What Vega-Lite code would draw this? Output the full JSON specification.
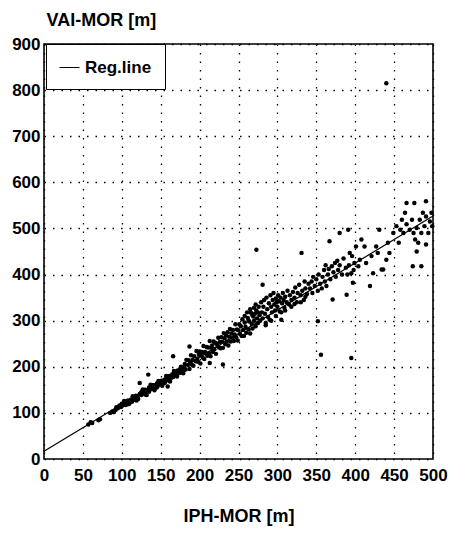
{
  "$schema": "https://vega.github.io/schema/vega-lite/v6.json",
  "autosize": {"type": "none"},
  "padding": {"left": 44, "top": 44, "right": 16, "bottom": 85},
  "width": 389,
  "height": 415,
  "background": "white",
  "config": {
    "font": "Liberation Sans",
    "view": {"stroke": "black", "strokeWidth": 1.6},
    "axis": {
      "grid": true,
      "gridColor": "black",
      "gridDash": [1.5, 7],
      "gridWidth": 1.3,
      "gridOpacity": 1,
      "domain": false,
      "ticks": false,
      "labelFont": "Liberation Sans",
      "labelFontSize": 17,
      "labelFontWeight": "bold",
      "labelColor": "black",
      "titleFont": "Liberation Sans",
      "titleFontSize": 18,
      "titleFontWeight": "bold",
      "titleColor": "black"
    }
  },
  "datasets": {
    "pts": [
      {"x":57,"y":75},{"x":60,"y":80},{"x":62,"y":78},{"x":70,"y":84},{"x":72,"y":86},{"x":85,"y":100},{"x":88,"y":103},{"x":90,"y":102},{"x":92,"y":106},
      {"x":93,"y":112},{"x":95,"y":110},{"x":97,"y":116},{"x":99,"y":113},{"x":100,"y":120},{"x":102,"y":118},{"x":104,"y":121},{"x":105,"y":124},{"x":107,"y":119},{"x":108,"y":127},{"x":110,"y":126},{"x":112,"y":129},{"x":113,"y":124},{"x":115,"y":133},{"x":117,"y":131},{"x":118,"y":137},{"x":120,"y":135},{"x":121,"y":130},{"x":123,"y":141},{"x":123,"y":165},{"x":125,"y":139},{"x":126,"y":146},{"x":128,"y":144},{"x":130,"y":150},{"x":131,"y":143},{"x":133,"y":148},{"x":134,"y":183},{"x":135,"y":155},{"x":136,"y":150},{"x":138,"y":158},{"x":140,"y":153},{"x":141,"y":160},{"x":143,"y":155},{"x":145,"y":164},{"x":146,"y":158},{"x":148,"y":167},{"x":150,"y":162},{"x":151,"y":170},{"x":153,"y":166},{"x":155,"y":172},{"x":156,"y":168},{"x":158,"y":176},{"x":159,"y":157},{"x":160,"y":171},{"x":161,"y":180},{"x":163,"y":175},{"x":165,"y":184},{"x":166,"y":223},{"x":166,"y":178},{"x":168,"y":188},{"x":170,"y":182},{"x":172,"y":192},{"x":173,"y":186},{"x":175,"y":195},{"x":177,"y":189},{"x":178,"y":198},{"x":180,"y":193},
      {"x":100,"y":115},{"x":105,"y":117},{"x":110,"y":122},{"x":115,"y":128},{"x":120,"y":131},{"x":125,"y":144},{"x":130,"y":140},{"x":135,"y":146},{"x":140,"y":160},{"x":145,"y":155},{"x":150,"y":168},{"x":155,"y":165},{"x":160,"y":176},{"x":165,"y":179},{"x":170,"y":190},{"x":175,"y":187},{"x":180,"y":199},
      {"x":103,"y":126},{"x":109,"y":119},{"x":114,"y":136},{"x":119,"y":127},{"x":127,"y":151},{"x":132,"y":139},{"x":137,"y":161},{"x":142,"y":149},{"x":147,"y":169},{"x":152,"y":159},{"x":157,"y":180},{"x":162,"y":168},{"x":167,"y":191},{"x":171,"y":179},{"x":176,"y":200},{"x":179,"y":186},
      {"x":181,"y":206},{"x":182,"y":194},{"x":183,"y":215},{"x":185,"y":204},{"x":186,"y":214},{"x":187,"y":195},{"x":187,"y":244},{"x":188,"y":210},{"x":189,"y":225},{"x":190,"y":205},{"x":191,"y":215},{"x":192,"y":202},{"x":193,"y":223},{"x":195,"y":212},{"x":196,"y":234},{"x":197,"y":217},{"x":198,"y":211},{"x":199,"y":226},{"x":200,"y":233},{"x":201,"y":207},{"x":202,"y":225},{"x":203,"y":232},{"x":204,"y":220},{"x":205,"y":245},{"x":206,"y":217},{"x":207,"y":232},{"x":208,"y":229},{"x":209,"y":243},{"x":210,"y":224},{"x":211,"y":242},{"x":212,"y":230},{"x":213,"y":256},{"x":213,"y":208},{"x":214,"y":223},{"x":215,"y":241},{"x":216,"y":246},{"x":217,"y":232},{"x":218,"y":255},{"x":219,"y":238},{"x":220,"y":252},{"x":221,"y":228},{"x":222,"y":250},{"x":223,"y":245},{"x":224,"y":263},{"x":225,"y":242},{"x":226,"y":254},{"x":227,"y":240},{"x":228,"y":264},{"x":229,"y":254},{"x":230,"y":241},{"x":230,"y":205},{"x":231,"y":273},{"x":232,"y":262},{"x":233,"y":249},{"x":234,"y":268},{"x":235,"y":255},{"x":236,"y":275},{"x":237,"y":246},{"x":238,"y":265},{"x":239,"y":282},{"x":240,"y":255},{"x":241,"y":272},{"x":242,"y":263},{"x":243,"y":280},{"x":244,"y":256},{"x":245,"y":270},{"x":246,"y":292},{"x":247,"y":264},{"x":248,"y":281},{"x":249,"y":257},{"x":250,"y":279},{"x":251,"y":292},{"x":252,"y":271},{"x":253,"y":288},{"x":254,"y":267},{"x":255,"y":303},{"x":256,"y":280},{"x":257,"y":267},{"x":258,"y":296},{"x":259,"y":287},{"x":260,"y":274},{"x":262,"y":306},{"x":263,"y":281},{"x":264,"y":298},{"x":265,"y":272},{"x":266,"y":317},{"x":267,"y":293},{"x":268,"y":283},{"x":269,"y":309},
      {"x":258,"y":310},{"x":261,"y":318},{"x":263,"y":300},{"x":265,"y":325},{"x":268,"y":312},{"x":270,"y":328},{"x":272,"y":335},{"x":275,"y":318},
      {"x":270,"y":300},{"x":271,"y":315},{"x":272,"y":288},{"x":273,"y":454},{"x":273,"y":322},{"x":274,"y":305},{"x":275,"y":295},{"x":276,"y":330},{"x":277,"y":312},{"x":278,"y":300},{"x":279,"y":340},{"x":280,"y":318},{"x":281,"y":378},{"x":281,"y":305},{"x":282,"y":330},{"x":283,"y":345},{"x":284,"y":315},{"x":285,"y":295},{"x":286,"y":350},{"x":287,"y":325},{"x":288,"y":308},{"x":289,"y":338},{"x":290,"y":302},{"x":291,"y":355},{"x":292,"y":330},{"x":293,"y":318},{"x":294,"y":345},{"x":295,"y":360},{"x":296,"y":335},{"x":297,"y":322},{"x":298,"y":348},{"x":299,"y":340},{"x":300,"y":330},{"x":301,"y":355},{"x":302,"y":342},{"x":303,"y":320},{"x":304,"y":350},{"x":305,"y":302},{"x":306,"y":338},{"x":307,"y":360},{"x":308,"y":345},{"x":309,"y":328},{"x":310,"y":352},{"x":312,"y":340},{"x":313,"y":365},{"x":315,"y":335},{"x":316,"y":355},{"x":318,"y":345},{"x":320,"y":362},{"x":322,"y":350},{"x":323,"y":372},{"x":325,"y":340},{"x":326,"y":360},{"x":328,"y":378},{"x":330,"y":355},{"x":331,"y":447},{"x":332,"y":365},{"x":334,"y":345},{"x":335,"y":385},{"x":336,"y":370},{"x":338,"y":358},{"x":340,"y":380},
      {"x":285,"y":290},{"x":292,"y":300},{"x":298,"y":310},{"x":305,"y":318},{"x":310,"y":322},{"x":318,"y":330},{"x":322,"y":336},{"x":330,"y":340},{"x":336,"y":352},
      {"x":342,"y":370},{"x":344,"y":385},{"x":345,"y":360},{"x":346,"y":395},{"x":348,"y":375},{"x":350,"y":390},{"x":352,"y":365},{"x":352,"y":299},{"x":353,"y":400},{"x":355,"y":380},{"x":356,"y":226},{"x":357,"y":370},{"x":358,"y":395},{"x":360,"y":410},{"x":361,"y":385},{"x":362,"y":420},{"x":363,"y":375},{"x":365,"y":400},{"x":366,"y":412},{"x":367,"y":472},{"x":368,"y":390},{"x":370,"y":418},{"x":371,"y":346},{"x":372,"y":405},{"x":374,"y":425},{"x":375,"y":395},{"x":377,"y":430},{"x":378,"y":410},{"x":380,"y":490},{"x":380,"y":420},{"x":383,"y":400},{"x":385,"y":435},{"x":388,"y":415},{"x":389,"y":356},{"x":390,"y":400},{"x":391,"y":497},{"x":392,"y":420},{"x":393,"y":447},{"x":395,"y":219},{"x":395,"y":403},{"x":396,"y":440},{"x":397,"y":382},{"x":398,"y":410},{"x":399,"y":425},
      {"x":401,"y":461},{"x":404,"y":418},{"x":406,"y":432},{"x":408,"y":476},{"x":412,"y":461},{"x":414,"y":425},{"x":419,"y":375},{"x":421,"y":440},{"x":423,"y":403},{"x":427,"y":461},{"x":429,"y":447},{"x":431,"y":497},{"x":434,"y":411},{"x":436,"y":411},{"x":440,"y":432},{"x":440,"y":815},{"x":442,"y":469},{"x":444,"y":447},{"x":449,"y":490},{"x":453,"y":505},{"x":456,"y":469},{"x":458,"y":497},{"x":460,"y":519},{"x":462,"y":490},{"x":464,"y":534},{"x":466,"y":509},{"x":466,"y":555},{"x":470,"y":497},{"x":473,"y":519},{"x":474,"y":418},{"x":475,"y":490},{"x":476,"y":555},{"x":477,"y":476},{"x":479,"y":501},{"x":479,"y":450},{"x":481,"y":469},{"x":483,"y":519},{"x":485,"y":490},{"x":485,"y":418},{"x":487,"y":534},{"x":489,"y":505},{"x":491,"y":526},{"x":491,"y":559},{"x":491,"y":465},{"x":494,"y":490},{"x":496,"y":515},{"x":498,"y":534},{"x":499,"y":505}
    ],
    "reg": [{"x": 0, "y": 17}, {"x": 500, "y": 527}]
  },
  "encoding": {
    "x": {"field": "x", "type": "quantitative", "scale": {"domain": [0, 500], "nice": false},
          "axis": {"values": [0,50,100,150,200,250,300,350,400,450,500], "labelOverlap": false, "labelPadding": 8, "labelFlush": false, "title": "IPH-MOR [m]", "titlePadding": 24}},
    "y": {"field": "y", "type": "quantitative", "scale": {"domain": [0, 900], "nice": false},
          "axis": {"values": [0,100,200,300,400,500,600,700,800,900], "labelOverlap": false, "labelPadding": 4, "title": "VAI-MOR [m]", "titleAngle": 0, "titleAlign": "left", "titleBaseline": "middle", "titleX": 2, "titleY": -24}}
  },
  "layer": [
    {
      "data": {"name": "pts"},
      "mark": {"type": "point", "shape": "circle", "filled": true, "size": 20, "color": "black", "opacity": 1}
    },
    {
      "data": {"name": "reg"},
      "mark": {"type": "line", "strokeWidth": 1.2},
      "encoding": {
        "color": {"datum": "Reg.line", "scale": {"range": ["black"]},
                  "legend": {"orient": "none", "legendX": 2, "legendY": 0, "title": null, "fillColor": "white", "strokeColor": "black", "padding": 13, "symbolType": "stroke", "symbolSize": 400, "symbolStrokeWidth": 1, "symbolStrokeColor": "black", "labelFont": "Liberation Sans", "labelFontSize": 17, "labelFontWeight": "bold", "labelColor": "black", "labelOffset": 5, "cornerRadius": 0}}
      }
    }
  ]
}
